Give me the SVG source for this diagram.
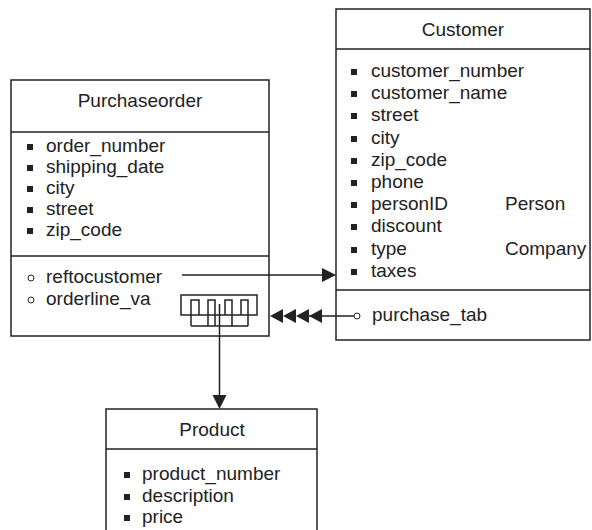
<svg xmlns="http://www.w3.org/2000/svg" width="592" height="530" viewBox="0 0 592 530">
<style>
.box{fill:#fff;stroke:#222;stroke-width:1.5}
.ln{stroke:#222;stroke-width:1.5;fill:none}
.t{font-family:"Liberation Sans",Arial,sans-serif;font-size:19px;fill:#222}
.c{text-anchor:middle}
.b{fill:#222}
.o{fill:#fff;stroke:#222;stroke-width:1}
.ah{fill:#222}
</style>
<rect width="592" height="530" fill="#fff"/>
<g id="purchaseorder">
<rect class="box" x="11" y="80" width="258" height="256"/>
<line class="ln" x1="11" y1="132" x2="269" y2="132"/>
<line class="ln" x1="11" y1="256" x2="269" y2="256"/>
<text class="t c" x="140" y="107">Purchaseorder</text>
<g class="b">
<rect x="27" y="144" width="6" height="6"/>
<rect x="27" y="165" width="6" height="6"/>
<rect x="27" y="186" width="6" height="6"/>
<rect x="27" y="207" width="6" height="6"/>
<rect x="27" y="228" width="6" height="6"/>
</g>
<text class="t" x="46" y="152">order_number</text>
<text class="t" x="46" y="173">shipping_date</text>
<text class="t" x="46" y="194">city</text>
<text class="t" x="46" y="215">street</text>
<text class="t" x="46" y="236">zip_code</text>
<circle class="o" cx="31" cy="278" r="3"/>
<circle class="o" cx="31" cy="300" r="3"/>
<text class="t" x="46" y="283">reftocustomer</text>
<text class="t" x="46" y="305">orderline_va</text>
<rect class="ln" x="181" y="295" width="76" height="20"/>
<path class="ln" d="M191,326 V300 H199 V315 M208,326 V300 H215 V326 M225,315 V300 H232 V326 M241,315 V300 H248 V326 M191,326 H248"/>
</g>
<g id="customer">
<rect class="box" x="336" y="9" width="254" height="331"/>
<line class="ln" x1="336" y1="49" x2="590" y2="49"/>
<line class="ln" x1="336" y1="290" x2="590" y2="290"/>
<text class="t c" x="463" y="36">Customer</text>
<g class="b">
<rect x="351" y="69" width="6" height="6"/>
<rect x="351" y="91" width="6" height="6"/>
<rect x="351" y="113" width="6" height="6"/>
<rect x="351" y="136" width="6" height="6"/>
<rect x="351" y="158" width="6" height="6"/>
<rect x="351" y="180" width="6" height="6"/>
<rect x="351" y="202" width="6" height="6"/>
<rect x="351" y="224" width="6" height="6"/>
<rect x="351" y="247" width="6" height="6"/>
<rect x="351" y="269" width="6" height="6"/>
</g>
<text class="t" x="371" y="77">customer_number</text>
<text class="t" x="371" y="99">customer_name</text>
<text class="t" x="371" y="121">street</text>
<text class="t" x="371" y="144">city</text>
<text class="t" x="371" y="166">zip_code</text>
<text class="t" x="371" y="188">phone</text>
<text class="t" x="371" y="210">personID</text>
<text class="t" x="505" y="210">Person</text>
<text class="t" x="371" y="232">discount</text>
<text class="t" x="371" y="255">type</text>
<text class="t" x="505" y="255">Company</text>
<text class="t" x="371" y="277">taxes</text>
<circle class="o" cx="357" cy="316" r="3"/>
<text class="t" x="372" y="321">purchase_tab</text>
</g>
<g id="product">
<rect class="box" x="106" y="409" width="211" height="130"/>
<line class="ln" x1="106" y1="449" x2="317" y2="449"/>
<text class="t c" x="212" y="436">Product</text>
<g class="b">
<rect x="124" y="472" width="6" height="6"/>
<rect x="124" y="494" width="6" height="6"/>
<rect x="124" y="515" width="6" height="6"/>
</g>
<text class="t" x="142" y="480">product_number</text>
<text class="t" x="142" y="502">description</text>
<text class="t" x="142" y="523">price</text>
</g>
<g id="connectors">
<line class="ln" x1="182" y1="275" x2="324" y2="275"/>
<polygon class="ah" points="322,268 336,275 322,282"/>
<line class="ln" x1="300" y1="316" x2="354" y2="316"/>
<polygon class="ah" points="270,316 283,309 283,323"/>
<polygon class="ah" points="283,316 296,309 296,323"/>
<polygon class="ah" points="296,316 309,309 309,323"/>
<polygon class="ah" points="309,316 322,309 322,323"/>
<line class="ln" x1="219.5" y1="304" x2="219.5" y2="397"/>
<polygon class="ah" points="212.5,395 226.5,395 219.5,409"/>
</g>
</svg>
